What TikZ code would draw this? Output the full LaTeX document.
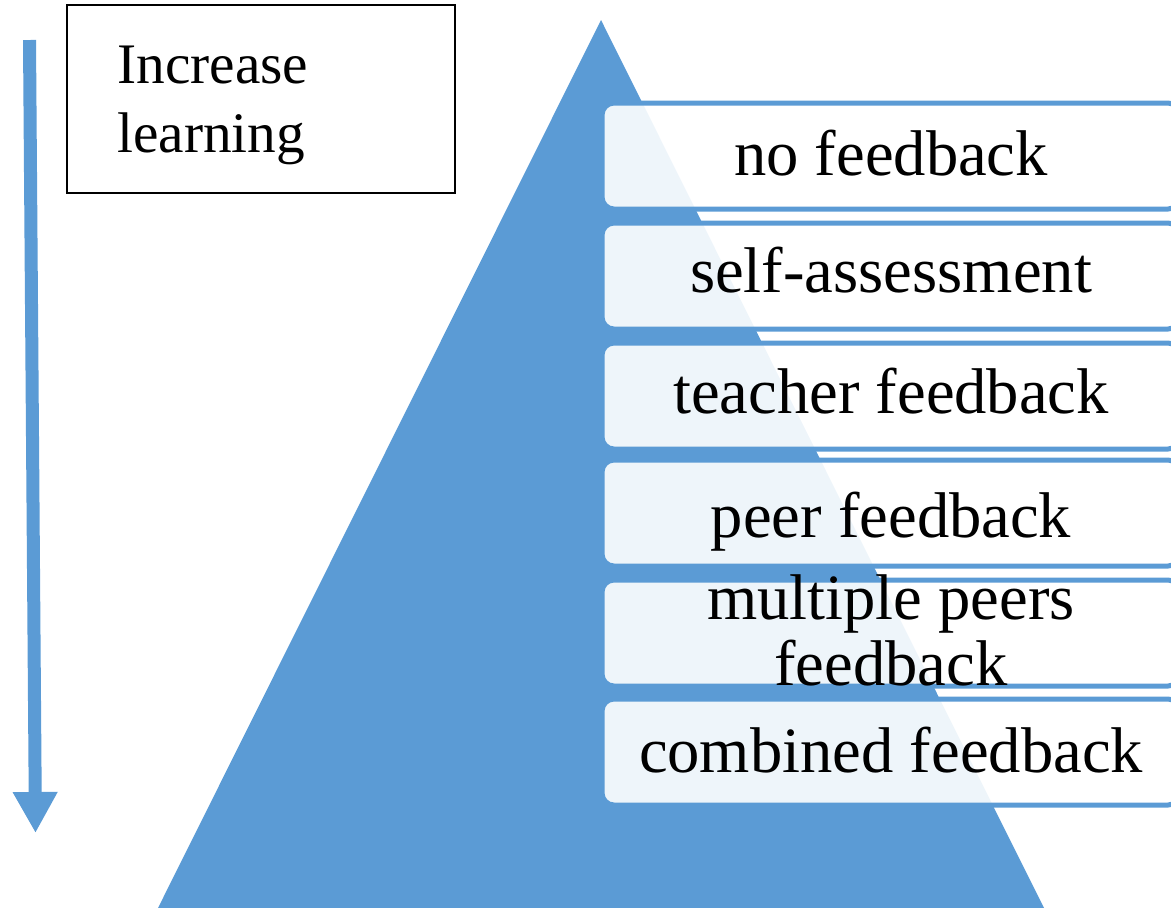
\documentclass[tikz,border=0pt]{standalone}
\usepackage{fontspec}
\setmainfont{Liberation Serif}
\usetikzlibrary{arrows.meta}
\definecolor{pyrblue}{HTML}{5B9BD5}
\begin{document}
\begin{tikzpicture}[x=0.5pt,y=-0.5pt,
  level/.style={draw=pyrblue, line width=2.5pt, fill=white, fill opacity=0.9,
    rounded corners=6pt, minimum width=289pt, minimum height=53pt,
    inner sep=0pt, outer sep=0pt, anchor=north west},
  leveltext/.style={anchor=base, inner sep=0pt, align=center,
    font=\fontsize{32.3}{33}\selectfont},
  notebox/.style={draw=black, line width=1.2pt, minimum width=194pt,
    minimum height=94pt, inner sep=0pt, outer sep=0pt, anchor=north west},
  notetext/.style={anchor=base west, inner sep=0pt, align=left,
    font=\fontsize{28.65}{34.5}\selectfont},
  trend/.style={draw=pyrblue, line width=6.5pt,
    -{Triangle[width=21pt,length=20.5pt]}},
]
\useasboundingbox (0,0) rectangle (1171,907);
\clip (0,0) rectangle (1171,907);

% pyramid
\fill[pyrblue] (601,20) -- (1045,910) -- (157,910) -- cycle;

% levels of the pyramid
\node[level] (b1) at (602,103) {};
\node[level] (b2) at (602,223) {};
\node[level] (b3) at (602,343) {};
\node[level] (b4) at (602,460) {};
\node[level] (b5) at (602,580) {};
\node[level] (b6) at (602,699) {};

% labels, placed by the baseline of their last line
\node[leveltext] (t1) at (891,175) {no feedback};
\node[leveltext] (t2) at (891,292) {self-assessment};
\node[leveltext] (t3) at (891,413) {teacher feedback};
\node[leveltext] (t4) at (891,537) {peer feedback};
\node[leveltext] (t5) at (891,685) {multiple peers\\feedback};
\node[leveltext] (t6) at (891,772) {combined feedback};

% direction of increasing learning
\node[notebox] (lbox) at (67,5) {};
\node[notetext] (ltext) at (117,152) {Increase\\learning};
\coordinate (arrtop) at (29.5,40);
\coordinate (arrend) at (35.5,833);
\draw[trend] (arrtop) -- (arrend);
\end{tikzpicture}
\end{document}
